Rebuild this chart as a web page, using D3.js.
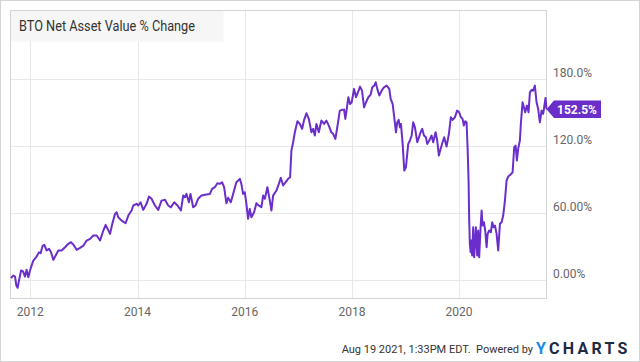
<!DOCTYPE html>
<html>
<head>
<meta charset="utf-8">
<script src="https://cdn.jsdelivr.net/npm/d3@7"></script>
<style>
  html, body { margin: 0; padding: 0; background: #fff; }
  text { font-family: Roboto, "Noto Sans", sans-serif; }
</style>
</head>
<body>
<div id="graph"></div>
<script>
// data (decimal year, % change)
var years = [
  2011.637, 2011.683, 2011.715, 2011.739, 2011.763, 2011.795, 2011.827, 2011.864, 2011.901, 2011.931,
  2011.963, 2011.994, 2012.024, 2012.056, 2012.117, 2012.162, 2012.192, 2012.229, 2012.261, 2012.304,
  2012.349, 2012.386, 2012.429, 2012.472, 2012.522, 2012.583, 2012.647, 2012.708, 2012.759, 2012.801,
  2012.863, 2012.926, 2012.988, 2013.049, 2013.113, 2013.174, 2013.236, 2013.299, 2013.361, 2013.404,
  2013.441, 2013.486, 2013.528, 2013.579, 2013.609, 2013.640, 2013.702, 2013.776, 2013.827, 2013.888,
  2013.920, 2013.981, 2014.013, 2014.056, 2014.106, 2014.168, 2014.212, 2014.261, 2014.324, 2014.386,
  2014.447, 2014.511, 2014.572, 2014.623, 2014.684, 2014.746, 2014.809, 2014.852, 2014.884, 2014.913,
  2014.958, 2014.988, 2015.038, 2015.081, 2015.131, 2015.193, 2015.286, 2015.350, 2015.392, 2015.443,
  2015.491, 2015.536, 2015.579, 2015.616, 2015.659, 2015.691, 2015.741, 2015.784, 2015.845, 2015.909,
  2015.938, 2015.970, 2016.002, 2016.032, 2016.063, 2016.095, 2016.125, 2016.175, 2016.218, 2016.263,
  2016.311, 2016.343, 2016.375, 2016.423, 2016.468, 2016.498, 2016.529, 2016.591, 2016.636, 2016.673,
  2016.716, 2016.759, 2016.809, 2016.846, 2016.870, 2016.902, 2016.934, 2016.982, 2017.027, 2017.070,
  2017.107, 2017.150, 2017.195, 2017.243, 2017.275, 2017.307, 2017.336, 2017.381, 2017.430, 2017.480,
  2017.523, 2017.568, 2017.616, 2017.648, 2017.691, 2017.741, 2017.773, 2017.815, 2017.853, 2017.877,
  2017.899, 2017.933, 2017.965, 2017.996, 2018.039, 2018.076, 2018.119, 2018.151, 2018.188, 2018.226,
  2018.263, 2018.306, 2018.350, 2018.380, 2018.417, 2018.444, 2018.473, 2018.511, 2018.555, 2018.598,
  2018.649, 2018.697, 2018.723, 2018.760, 2018.790, 2018.822, 2018.846, 2018.872, 2018.896, 2018.915,
  2018.947, 2018.977, 2019.008, 2019.051, 2019.083, 2019.115, 2019.144, 2019.176, 2019.219, 2019.251,
  2019.282, 2019.312, 2019.344, 2019.381, 2019.405, 2019.443, 2019.487, 2019.517, 2019.562, 2019.592,
  2019.623, 2019.655, 2019.692, 2019.722, 2019.767, 2019.810, 2019.847, 2019.879, 2019.922, 2019.964,
  2020.002, 2020.028, 2020.065, 2020.090, 2020.114, 2020.140, 2020.159, 2020.177, 2020.189, 2020.201,
  2020.215, 2020.226, 2020.244, 2020.263, 2020.282, 2020.300, 2020.313, 2020.338, 2020.356, 2020.375,
  2020.401, 2020.420, 2020.438, 2020.463, 2020.487, 2020.513, 2020.532, 2020.561, 2020.593, 2020.617,
  2020.643, 2020.668, 2020.699, 2020.729, 2020.761, 2020.792, 2020.822, 2020.854, 2020.885, 2020.915,
  2020.960, 2020.997, 2021.027, 2021.053, 2021.077, 2021.101, 2021.133, 2021.151, 2021.183, 2021.208,
  2021.232, 2021.264, 2021.295, 2021.320, 2021.351, 2021.381, 2021.413, 2021.444, 2021.474, 2021.506,
  2021.538, 2021.567, 2021.586, 2021.612, 2021.631
];
var navChange = [
  1.3, 3.6, 2.7, -5.4, -7.4, 0.6, 8.1, 7.2, 2.7, 8.7,
  2.1, 8.1, 12.5, 17.0, 20.6, 24.4, 23.6, 30.2, 31.1, 26.0,
  27.5, 24.4, 17.6, 21.5, 26.0, 26.0, 28.9, 32.0, 33.4, 31.3,
  26.6, 28.4, 30.4, 34.9, 36.4, 39.4, 39.4, 34.9, 43.9, 49.0,
  45.4, 40.9, 49.9, 58.8, 60.3, 55.8, 52.8, 50.4, 57.3, 61.8,
  66.3, 67.8, 66.3, 69.2, 62.4, 67.8, 74.3, 72.3, 66.3, 62.4,
  70.7, 71.4, 66.3, 64.7, 69.2, 66.3, 61.8, 75.2, 73.7, 76.7,
  69.2, 76.7, 64.7, 66.3, 72.3, 75.2, 76.1, 76.7, 81.2, 82.7,
  86.2, 85.7, 87.1, 82.7, 68.3, 73.2, 69.2, 76.7, 87.1, 90.2,
  85.7, 76.7, 78.2, 67.8, 54.4, 63.3, 55.8, 60.3, 68.3, 66.3,
  64.7, 75.2, 72.3, 82.7, 70.7, 61.8, 75.2, 79.7, 85.7, 91.1,
  84.2, 87.1, 90.2, 91.6, 115.5, 123.0, 131.9, 141.8, 139.4, 135.0,
  143.0, 148.9, 143.9, 131.9, 135.0, 129.0, 139.4, 131.9, 142.4, 139.4,
  142.4, 137.9, 131.9, 130.5, 126.0, 140.9, 151.3, 152.0, 152.2, 143.9,
  151.3, 163.3, 157.3, 158.8, 170.8, 163.3, 168.6, 172.8, 169.2, 154.3,
  158.8, 163.3, 165.7, 172.2, 173.7, 176.7, 170.8, 164.8, 169.2, 172.2,
  173.7, 170.8, 161.8, 157.3, 145.3, 131.9, 140.9, 143.0, 136.4, 139.4,
  121.5, 97.6, 100.6, 121.5, 124.5, 129.0, 140.9, 136.4, 123.0, 127.4,
  131.9, 135.0, 129.0, 127.4, 121.5, 124.5, 129.0, 123.0, 131.9, 124.5,
  111.0, 117.0, 123.0, 127.4, 119.1, 130.5, 145.3, 143.0, 145.3, 151.3,
  149.8, 146.0, 143.9, 137.9, 141.8, 140.9, 118.5, 88.7, 52.8, 32.0,
  24.4, 34.9, 21.5, 46.8, 20.0, 34.9, 46.8, 21.5, 43.9, 20.0,
  46.8, 61.8, 48.4, 51.3, 43.9, 28.9, 40.9, 43.9, 42.4, 51.3,
  46.8, 48.4, 40.9, 26.0, 49.9, 51.3, 57.3, 70.7, 88.7, 92.2,
  94.0, 96.1, 118.5, 120.0, 106.6, 117.0, 124.5, 139.4, 158.8, 154.3,
  149.8, 155.8, 149.8, 167.7, 169.9, 169.2, 173.7, 158.8, 152.9, 140.9,
  151.3, 148.4, 154.3, 162.7, 152.5
];
var yTicks = [0, 60, 120, 180];
var yTickLabels = ["0.00%", "60.00%", "120.0%", "180.0%"];
var lastLabel = "152.5%";
var chartTitle = "BTO Net Asset Value % Change";
var footerText = "Aug 19 2021, 1:33PM EDT.  Powered by";

// decimal year -> Date
var decYear = function(y){
  var yr = Math.floor(y);
  var a = new Date(yr, 0, 1), b = new Date(yr + 1, 0, 1);
  return new Date(+a + (y - yr) * (b - a));
};

var data = years.map(function(d, i){ return {date: decYear(d), v: navChange[i]}; });

// layout
width = 640;
height = 362;
plot = {left: 10.5, right: 546.5, top: 10.5, bottom: 298.5};
lineColor = "#6a2ecb";

var svg = d3.select("#graph").append("svg")
  .attr("width", width).attr("height", height);

// outer frame
svg.append("rect")
  .attr("x", 0.5).attr("y", 0.5)
  .attr("width", width - 1).attr("height", height - 1)
  .attr("fill", "#fff").attr("stroke", "#d4d4d4");

var x = d3.scaleTime()
  .domain([decYear(2011.63), decYear(2021.63)])
  .range([plot.left, plot.right]);
var y = d3.scaleLinear()
  .domain([-17, 241])
  .range([plot.bottom, plot.top]);

// grid lines
var xTickVals = x.ticks(d3.timeYear.every(2));
svg.append("g").selectAll("line.vx").data(xTickVals).enter().append("line")
  .attr("x1", function(d){ return Math.round(x(d)) + 0.5; })
  .attr("x2", function(d){ return Math.round(x(d)) + 0.5; })
  .attr("y1", plot.top).attr("y2", plot.bottom)
  .attr("stroke", "#e8e8e8");
svg.append("g").selectAll("line.hy").data(yTicks).enter().append("line")
  .attr("x1", plot.left).attr("x2", plot.right)
  .attr("y1", function(d){ return Math.round(y(d)) + 0.5; })
  .attr("y2", function(d){ return Math.round(y(d)) + 0.5; })
  .attr("stroke", "#e8e8e8");

// title box
svg.append("rect")
  .attr("x", plot.left).attr("y", plot.top)
  .attr("width", 213).attr("height", 31)
  .attr("fill", "#f6f6f6");
svg.append("text")
  .attr("x", 19).attr("y", 31)
  .attr("font-size", 14).attr("fill", "#333")
  .attr("textLength", 176).attr("lengthAdjust", "spacingAndGlyphs")
  .text(chartTitle);

// plot border
svg.append("rect")
  .attr("x", plot.left).attr("y", plot.top)
  .attr("width", plot.right - plot.left).attr("height", plot.bottom - plot.top)
  .attr("fill", "none").attr("stroke", "#d4d4d4");

// line
var line = d3.line()
  .x(function(d){ return x(d.date); })
  .y(function(d){ return y(d.v); });
svg.append("path").datum(data)
  .attr("d", line)
  .attr("fill", "none")
  .attr("stroke", lineColor)
  .attr("stroke-width", 2)
  .attr("stroke-linejoin", "round");

// x labels
svg.append("g").selectAll("text").data(xTickVals).enter().append("text")
  .attr("x", function(d){ return x(d); })
  .attr("y", 316)
  .attr("text-anchor", "middle")
  .attr("font-size", 12).attr("fill", "#666")
  .text(function(d){ return d3.timeFormat("%Y")(d); });

// y labels
svg.append("g").selectAll("text").data(yTicks).enter().append("text")
  .attr("x", 553)
  .attr("y", function(d){ return y(d) - 2; })
  .attr("font-size", 12).attr("fill", "#666")
  .text(function(d, i){ return yTickLabels[i]; });

// last value badge
var last = data[data.length - 1];
var by = y(last.v);
svg.append("path")
  .attr("d", "M" + plot.right + "," + by + "L554," + (by - 8.7) + "L601," + (by - 8.7) +
             "L601," + (by + 8.7) + "L554," + (by + 8.7) + "Z")
  .attr("fill", lineColor);
svg.append("text")
  .attr("x", 577).attr("y", by + 4.5)
  .attr("text-anchor", "middle")
  .attr("font-size", 12).attr("font-weight", "bold").attr("fill", "#fff")
  .text(lastLabel);

// footer
svg.append("text")
  .attr("x", 533).attr("y", 353)
  .attr("text-anchor", "end")
  .attr("font-size", 11).attr("fill", "#333")
  .style("white-space", "pre")
  .text(footerText);
var logo = svg.append("text")
  .attr("x", 536).attr("y", 354)
  .attr("font-size", 16).attr("font-weight", "bold")
  .attr("letter-spacing", 2.6)
  .attr("textLength", 94).attr("lengthAdjust", "spacing");
logo.append("tspan").attr("fill", "#1a8de0").text("Y");
logo.append("tspan").attr("fill", "#1c2a44").text("CHARTS");
</script>
</body>
</html>
